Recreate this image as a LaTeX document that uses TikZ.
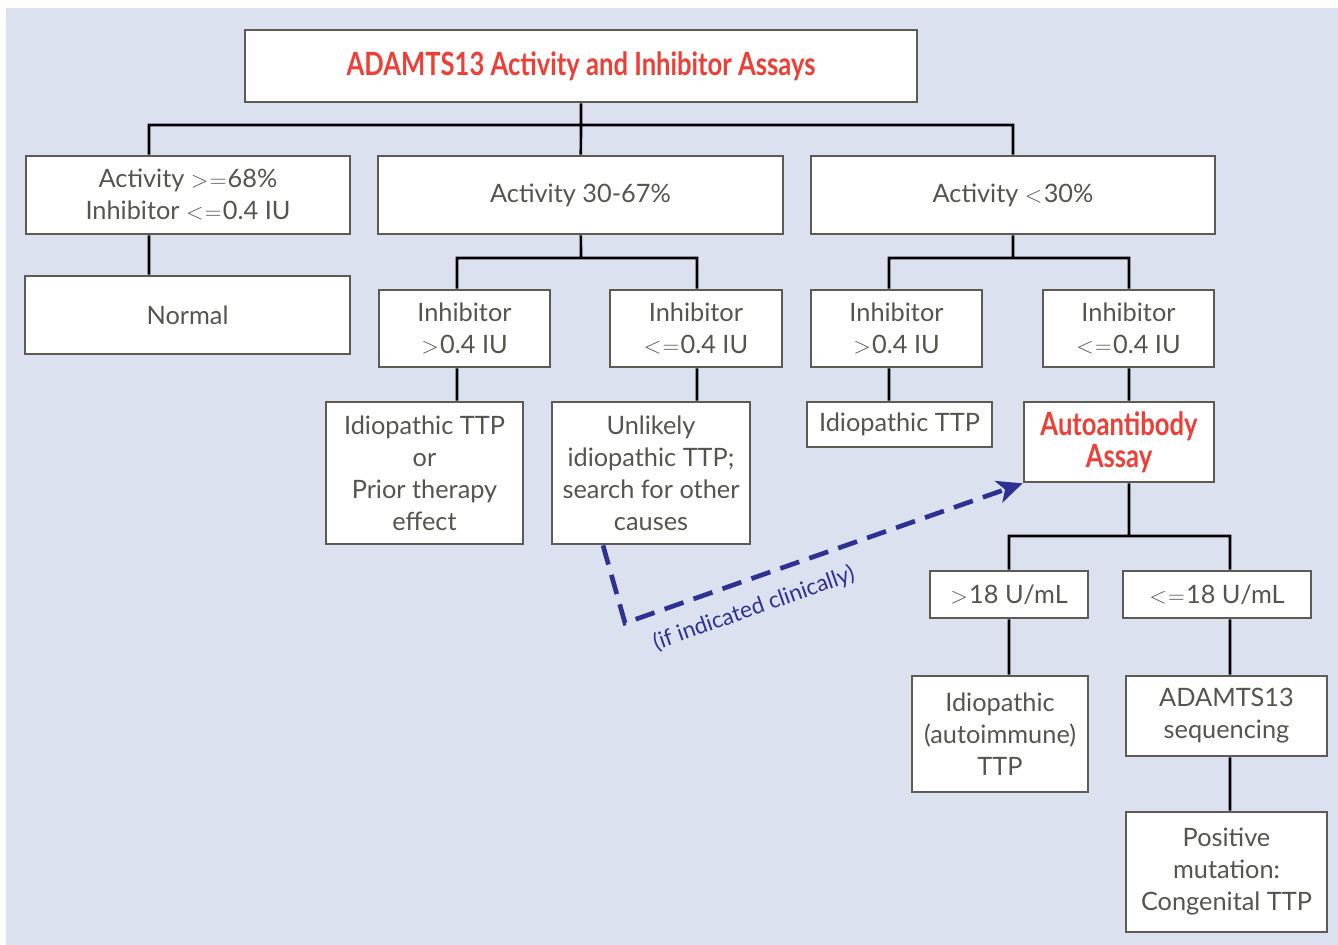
\documentclass[tikz,border=0pt]{standalone}
\usepackage{fontspec}
\setmainfont{Lato}
\newfontfamily\headfont[FakeStretch=0.8]{Lato}
\usepackage{tikz}
\usetikzlibrary{arrows.meta}
\usepackage{color}
\definecolor{bgblue}{HTML}{DCE1F0}
\definecolor{boxgray}{HTML}{5C5C55}
\definecolor{txtgray}{HTML}{55554F}
\definecolor{headred}{HTML}{EE3F37}
\definecolor{dashblue}{HTML}{2E3192}
\newcommand{\gtsign}{$>$\kern1pt}
\newcommand{\ltsign}{$<$\kern1pt}
\newcommand{\eqsign}{$=$\kern1pt}

\begin{document}
\begin{tikzpicture}[x=0.75pt,y=-0.75pt,
  box/.style={draw=boxgray, line width=2pt, fill=white, inner sep=0pt, align=center,
    text=txtgray, font=\fontsize{19}{24}\selectfont},
  head/.style={text=headred, font=\headfont\bfseries\fontsize{24}{24}\selectfont},
  link/.style={line width=2pt},
  dashlink/.style={dashblue, line width=3.5pt, dash pattern=on 15pt off 8pt,
    -{Stealth[length=19pt, width=17pt, inset=5pt]}}]
\useasboundingbox (0,0) rectangle (1338,945);
\fill[bgblue] (6,8) rectangle (1338,945);
% first row
\node (title) at (581,66) [box, head, minimum width=504pt, minimum height=54pt] {ADAMTS13 Activity and Inhibitor Assays};
\node (a1) at (188,195) [box, minimum width=243pt, minimum height=58.5pt] {Activity \gtsign\eqsign68\%\\Inhibitor \ltsign\eqsign0.4 IU};
\node (a2) at (580.5,195) [box, minimum width=303.75pt, minimum height=58.5pt] {Activity 30-67\%};
\node (a3) at (1013,195) [box, minimum width=303pt, minimum height=58.5pt] {Activity \ltsign30\%};
\node (nrm) at (187.5,315) [box, minimum width=243.75pt, minimum height=58.5pt] {Normal};
% inhibitor boxes
\node (b1) at (464.5,328.5) [box, minimum width=128.25pt, minimum height=57.75pt] {Inhibitor\\\gtsign0.4 IU};
\node (b2) at (696,328.5) [box, minimum width=129pt, minimum height=57.75pt] {Inhibitor\\\ltsign\eqsign0.4 IU};
\node (b3) at (896.5,328.5) [box, minimum width=128.25pt, minimum height=57.75pt] {Inhibitor\\\gtsign0.4 IU};
\node (b4) at (1128.5,328.5) [box, minimum width=128.25pt, minimum height=57.75pt] {Inhibitor\\\ltsign\eqsign0.4 IU};
% outcomes
\node (c1) at (424.5,473) [box, minimum width=147.75pt, minimum height=106.5pt] {Idiopathic TTP\\or\\Prior therapy\\effect};
\node (c2) at (651,473) [box, minimum width=148.5pt, minimum height=106.5pt] {Unlikely\\idiopathic TTP;\\search for other\\causes};
\node (c3) at (899.5,424.5) [box, minimum width=138.75pt, minimum height=33.75pt] {Idiopathic TTP};
\node (c4) at (1119,442) [box, head, minimum width=142.5pt, minimum height=60pt] {Autoantibody\\Assay};
\node (d1) at (1009,594.5) [box, minimum width=118.5pt, minimum height=35.25pt] {\gtsign18 U/mL};
\node (d2) at (1217,594.5) [box, minimum width=141pt, minimum height=35.25pt] {\ltsign\eqsign18 U/mL};
\node (e1) at (1000,734) [box, minimum width=132pt, minimum height=87pt] {Idiopathic\\(autoimmune)\\TTP};
\node (e2) at (1226.5,716) [box, minimum width=150.75pt, minimum height=60pt] {ADAMTS13\\sequencing};
\node (f) at (1226.5,872) [box, minimum width=150.75pt, minimum height=90pt] {Positive\\mutation:\\Congenital TTP};
% bus points
\coordinate (j0) at (581,125);
\coordinate (j1) at (581,258);
\coordinate (j2) at (1013,258);
\coordinate (j3) at (1129,536);
\draw[link]
(title) to (j0)
(j0) -| (a1.north -| 149,0)
(j0) to (a2)
(j0) -| (a3)
(a1.south -| 149,0) to (nrm.north -| 149,0)
(a2) to (j1)
(j1) -| (b1.north -| 457,0)
(j1) -| (b2.north -| 697,0)
(b1.south -| 457,0) to (c1.north -| 457,0)
(b2.south -| 697,0) to (c2.north -| 697,0)
(a3) to (j2)
(j2) -| (b3.north -| 889,0)
(j2) -| (b4.north -| 1129,0)
(b3.south -| 889,0) to (c3.north -| 889,0)
(b4.south -| 1129,0) to (c4.north -| 1129,0)
(c4.south -| 1129,0) to (j3)
(j3) -| (d1)
(j3) -| (d2.north -| 1230,0)
(d1.south -| 1009,0) to (e1.north -| 1009,0)
(d2.south -| 1230,0) to (e2.north -| 1230,0)
(e2.south -| 1230,0) to (f.north -| 1230,0);
% optional test
\draw[dashlink] (c2.south -| 603,0) -- (625,623) -- node[sloped, below=12pt, pos=0.3, inner sep=0pt, text=dashblue, font=\fontsize{17}{18}\selectfont] {(if indicated clinically)} (c4.south west);
\end{tikzpicture}
\end{document}
